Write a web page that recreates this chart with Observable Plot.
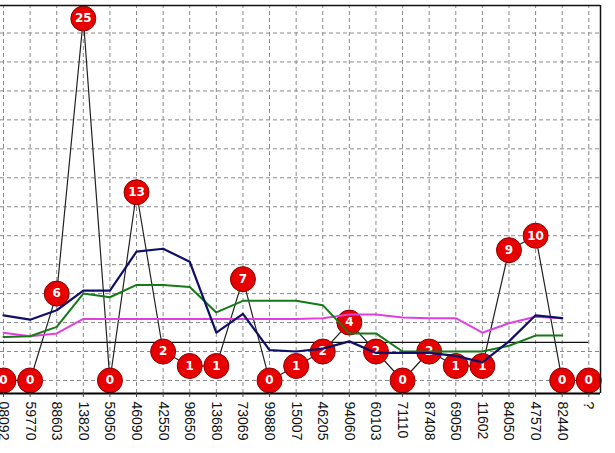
<!DOCTYPE html>
<html>
<head>
<meta charset="utf-8">
<script src="https://cdn.jsdelivr.net/npm/d3@7"></script>
<script src="https://cdn.jsdelivr.net/npm/@observablehq/plot@0.6"></script>
<style>
  html, body { margin: 0; padding: 0; background: white; }
  svg { display: block; }
</style>
</head>
<body>
<div id="chart"></div>
<script>
// Categories (x tick labels)
const categories = ["08092","59770","88603","13820","59050","46090","42550","98650","13680","73069","99880","15007","46205","94060","60103","71110","87408","69050","11602","84050","47570","82440","?"];
// Counts shown in the red circles
const counts = [0,0,6,25,0,13,2,1,1,7,0,1,2,4,2,0,2,1,1,9,10,0,0];
// Moving-average style lines
const navySeries    = [4.5,4.2,4.85,6.2,6.2,8.9,9.1,8.2,3.3,4.6,2.1,2.0,2.2,2.7,1.9,1.9,1.9,1.7,1.25,2.7,4.5,4.3];
const greenSeries   = [3.0,3.05,3.7,6.0,5.75,6.6,6.6,6.45,4.7,5.5,5.5,5.5,5.2,3.25,3.25,2.0,2.0,2.0,2.0,2.4,3.1,3.1];
const magentaSeries = [3.3,3.05,3.25,4.25,4.25,4.25,4.25,4.25,4.25,4.25,4.25,4.25,4.3,4.55,4.55,4.35,4.3,4.3,3.3,3.95,4.4,4.3];
// Horizontal reference level
const refLevel = 2.63;
// Horizontal grid values
const yGrid = [0,2,4,6,8,10,12,14,16,18,20,22,24];

const xDomain = [-0.113, 22.44];
const yDomain = [-0.9, 25.9];
const idx = categories.map((_, i) => i);
const toPts = arr => arr.map((v, i) => ({i, v}));

const chart = Plot.plot({
  width: 615,
  height: 453,
  marginLeft: 0,
  marginRight: 15,
  marginTop: 5,
  marginBottom: 60,
  style: {background: "white", fontFamily: "Liberation Sans, Arial, sans-serif"},
  x: {type: "linear", domain: xDomain, axis: null},
  y: {domain: yDomain, axis: null},
  marks: [
    Plot.ruleY(yGrid, {stroke: "#8a8a8a", strokeDasharray: "4,3", strokeWidth: 1}),
    Plot.ruleX(idx, {x: d => d, y1: yDomain[0], y2: yDomain[1], stroke: "#8a8a8a", strokeDasharray: "4,3", strokeWidth: 1}),
    Plot.ruleY([refLevel], {x1: xDomain[0], x2: idx[idx.length - 1], stroke: "#111", strokeWidth: 1.2}),
    Plot.line(toPts(counts), {x: "i", y: "v", stroke: "#222", strokeWidth: 1.2}),
    Plot.dot(toPts(counts), {x: "i", y: "v", r: 12.5, fill: "#e60000", stroke: "#8a0000", strokeWidth: 1}),
    Plot.text(toPts(counts), {x: "i", y: "v", text: d => String(d.v), fill: "white", fontWeight: "bold", fontSize: 12, fontFamily: "DejaVu Sans, sans-serif"}),
    Plot.line(toPts(magentaSeries), {x: "i", y: "v", stroke: "#e040e0", strokeWidth: 2}),
    Plot.line(toPts(greenSeries), {x: "i", y: "v", stroke: "#157a15", strokeWidth: 2}),
    Plot.line(toPts(navySeries), {x: "i", y: "v", stroke: "#10106a", strokeWidth: 2.2}),
    Plot.ruleY([yDomain[1]], {stroke: "#111", strokeWidth: 1.5}),
    Plot.ruleX([xDomain[1]], {y1: yDomain[0], y2: yDomain[1], stroke: "#111", strokeWidth: 1.5}),
    Plot.ruleY([yDomain[0]], {stroke: "#000", strokeWidth: 2}),
    Plot.axisX(idx, {
      tickFormat: i => categories[i],
      tickRotate: 90,
      tickSize: 4,
      tickPadding: 4,
      fontSize: 14,
      label: null,
      fill: "#111",
      stroke: "#444"
    })
  ]
});
document.getElementById("chart").appendChild(chart);
</script>
</body>
</html>
